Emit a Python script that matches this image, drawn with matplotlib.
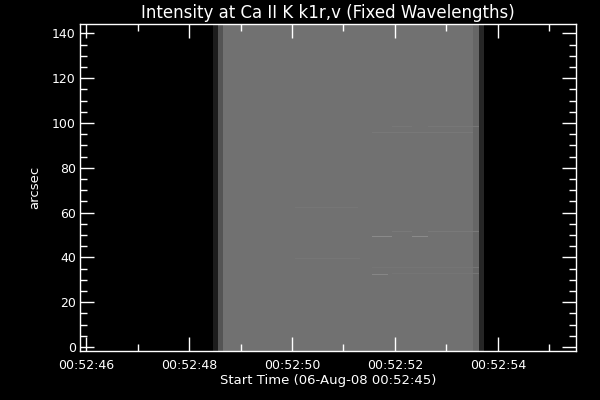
"""
Ca II K k1r,v intensity map (fixed wavelengths) - IDL style, black background
"""
import numpy as np
import matplotlib
matplotlib.use('Agg')
import matplotlib.pyplot as plt
from matplotlib.ticker import MultipleLocator, FuncFormatter

# ---- data (seconds after 00:52:45, arcsec, grey level 0-255) ----
start_hms = (0, 52, 45)
t_range = [0.88, 10.52]
y_range = [-1.8, 144.4]

# column bands of the raster (left edge, right edge, level)
band_t0 = [3.466, 3.563, 3.660, 8.515, 8.631]
band_t1 = [3.563, 3.660, 8.515, 8.631, 8.728]
band_level = [28, 84, 114, 102, 38]

# horizontal streaks seen in the raster
streak_y = [49.3, 49.3, 51.4, 51.4, 32.2, 95.5, 98.2, 98.2, 62.1, 39.4, 35.5, 32.7]
streak_t0 = [6.55, 7.33, 6.94, 7.64, 6.55, 6.55, 6.94, 7.64, 5.06, 5.06, 6.55, 6.94]
streak_t1 = [6.94, 7.64, 7.33, 8.63, 6.87, 8.51, 7.33, 8.63, 6.28, 6.32, 8.63, 8.63]
streak_level = [138, 138, 122, 122, 134, 120, 119, 119, 118, 118, 117, 117]


def build_image(dt=0.01, dy=0.45):
    t = np.arange(t_range[0], t_range[1], dt) + dt / 2
    y = np.arange(y_range[0], y_range[1], dy) + dy / 2
    img = np.zeros((len(y), len(t)))
    for a, b, lev in zip(band_t0, band_t1, band_level):
        img[:, (t >= a) & (t < b)] = lev
    for yy, a, b, lev in zip(streak_y, streak_t0, streak_t1, streak_level):
        row = np.argmin(np.abs(y - yy))
        img[row, (t >= a) & (t < b)] = lev
    return img


def hms(x, pos):
    s = start_hms[0] * 3600 + start_hms[1] * 60 + start_hms[2] + x
    s = int(round(s))
    return f"{s // 3600:02d}:{(s // 60) % 60:02d}:{s % 60:02d}"


fig = plt.figure(figsize=(6, 4), dpi=100, facecolor='black')
ax = fig.add_axes([80 / 600, 49 / 400, 496 / 600, 327.5 / 400], facecolor='black')

img = build_image()
ax.imshow(img, origin='lower', cmap='gray', vmin=0, vmax=255,
          extent=[t_range[0], t_range[1], y_range[0], y_range[1]],
          aspect='auto', interpolation='nearest')

ax.set_xlim(*t_range)
ax.set_ylim(*y_range)

ax.xaxis.set_major_locator(MultipleLocator(2, offset=1))
ax.xaxis.set_minor_locator(MultipleLocator(1))
ax.xaxis.set_major_formatter(FuncFormatter(hms))
ax.yaxis.set_major_locator(MultipleLocator(20))
ax.yaxis.set_minor_locator(MultipleLocator(5))

for sp in ax.spines.values():
    sp.set_color('white')
    sp.set_linewidth(1.0)
ax.tick_params(which='both', direction='in', colors='white', top=True, right=True,
               width=1.0, labelsize=9)
ax.tick_params(which='major', length=10)
ax.tick_params(which='minor', length=5)
ax.tick_params(axis='x', pad=6)
ax.tick_params(axis='y', pad=3)

ax.set_title('Intensity at Ca II K k1r,v (Fixed Wavelengths)', color='white',
             fontsize=12, pad=4)
ax.set_xlabel('Start Time (06-Aug-08 00:52:45)', color='white', fontsize=9.5, labelpad=1)
ax.set_ylabel('arcsec', color='white', fontsize=9.5, labelpad=8)

fig.savefig('out.png', dpi=100, facecolor='black')
